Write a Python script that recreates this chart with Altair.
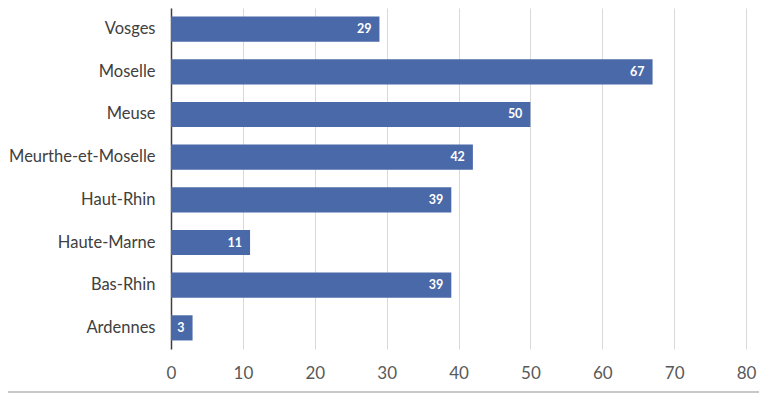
import altair as alt
import pandas as pd

departements = ["Vosges", "Moselle", "Meuse", "Meurthe-et-Moselle",
                "Haut-Rhin", "Haute-Marne", "Bas-Rhin", "Ardennes"]
valeurs = [29, 67, 50, 42, 39, 11, 39, 3]
x_ticks = [0, 10, 20, 30, 40, 50, 60, 70, 80]

df = pd.DataFrame({"dep": departements, "val": valeurs})

FONT = "Lato"

y_enc = alt.Y("dep:N", sort=departements, title=None,
              scale=alt.Scale(paddingInner=0.41, paddingOuter=0.2),
              axis=alt.Axis(labelFont=FONT, labelFontSize=16.5, labelColor="#404040",
                            labelPadding=16, ticks=False, domainColor="#404040",
                            domainWidth=1.5, grid=False))
x_enc = alt.X("val:Q", title=None,
              scale=alt.Scale(domain=[0, 80], nice=False),
              axis=alt.Axis(values=x_ticks, labelFont=FONT, labelFontSize=17,
                            labelColor="#595959", labelPadding=16, ticks=False,
                            labelFlush=False, domain=False,
                            gridColor="#d9d9d9", gridWidth=1))

base = alt.Chart(df)
bars = base.mark_bar(color="#4a69a8").encode(x=x_enc, y=y_enc)
labels = base.mark_text(align="right", baseline="middle", dx=-8, color="white",
                        font=FONT, fontWeight="bold", fontSize=12.5).encode(
    x="val:Q", y=alt.Y("dep:N", sort=departements), text="val:Q")

bottom_line = alt.Chart(pd.DataFrame({"a": [0]})).mark_rule(
    color="#c8c8c8", strokeWidth=2, clip=False).encode(
    x=alt.value(-171), x2=alt.value(596), y=alt.value(384))

chart = (bars + labels + bottom_line).properties(
    width=575, height=341,
    autosize=alt.AutoSizeParams(type="none"),
    padding={"left": 163, "top": 0, "right": 13, "bottom": 50},
).configure_view(stroke=None)

chart.save("out.html", embed_options={"renderer": "svg", "actions": False})
